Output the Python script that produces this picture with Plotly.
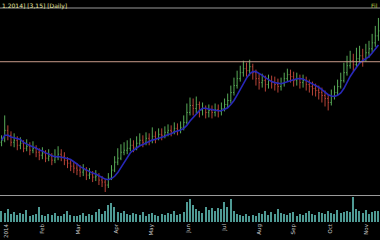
import plotly.graph_objects as go
import pandas as pd

close = [12.0,14.0,13.0,11.6,12.0,11.0,11.4,10.4,10.8,10.0,
         10.4,9.6,9.0,9.4,8.4,8.8,8.0,8.6,9.2,8.8,
         8.0,7.4,6.8,6.4,6.0,5.6,6.0,5.0,5.2,4.6,
         4.8,4.0,3.6,3.0,4.4,6.0,7.6,8.4,9.6,10.0,
         10.4,11.0,10.6,11.4,12.0,11.6,12.4,12.0,12.8,12.4,
         13.2,13.0,13.6,14.0,13.8,14.4,14.0,14.6,15.6,17.6,
         19.0,18.4,19.2,18.0,18.4,17.6,18.0,17.6,18.2,17.8,
         18.4,19.2,20.0,21.6,23.0,24.4,25.6,26.4,26.0,26.8,
         25.6,24.4,23.6,24.0,23.2,24.0,23.6,23.2,22.8,23.4,
         24.4,25.2,24.8,24.0,24.4,23.6,24.0,23.2,22.8,22.4,
         22.0,21.6,21.0,20.4,19.6,20.8,21.6,22.8,24.0,25.6,
         27.0,28.0,27.2,28.4,29.0,28.4,29.6,30.4,31.6,33.0,
         34.0]
open_ = [11.6] + close[:-1]
high = [13.0,17.0,15.0,13.8,13.4,12.8,12.6,12.0,12.2,11.6,
        11.8,11.0,10.4,10.6,10.0,10.2,9.4,10.2,10.8,10.2,
        9.6,8.6,8.0,7.6,7.4,7.0,7.2,6.6,6.4,5.8,
        6.0,5.4,4.8,4.2,5.4,7.0,8.8,10.4,11.2,11.6,
        12.0,12.4,12.0,12.8,13.4,13.0,13.6,13.4,14.6,13.8,
        14.4,14.4,14.8,15.2,15.0,15.6,15.4,15.8,17.0,19.4,
        20.6,20.4,20.8,19.8,19.6,19.0,19.2,19.0,19.4,19.2,
        19.6,20.4,21.4,23.0,24.6,26.0,27.0,28.0,27.6,28.2,
        27.4,26.2,25.4,25.4,25.0,25.2,25.0,24.8,24.4,24.6,
        25.6,26.4,26.2,25.8,25.6,25.2,25.2,24.8,24.2,23.8,
        23.4,23.0,22.6,22.0,21.2,22.2,23.0,24.2,25.6,27.6,
        29.0,30.0,29.4,30.6,31.0,30.4,31.4,32.0,33.4,35.0,
        36.6]
low = [10.8,11.6,12.0,10.8,10.6,10.0,10.2,9.6,9.8,9.0,
       9.4,8.6,8.0,8.2,7.6,7.8,7.0,7.4,8.0,7.8,
       7.0,6.4,5.8,5.4,5.0,4.6,4.8,4.0,4.2,3.6,
       3.8,3.0,2.6,1.6,2.4,4.0,5.6,7.0,8.0,9.0,
       9.2,9.8,9.6,10.0,10.8,10.6,11.0,11.0,11.4,11.4,
       12.0,12.0,12.4,12.8,12.8,13.2,13.0,13.4,14.0,15.2,
       17.0,17.0,17.4,16.6,17.0,16.4,16.6,16.4,16.8,16.6,
       17.0,17.8,18.6,19.4,21.0,22.4,23.8,24.8,24.8,25.0,
       24.2,23.0,22.2,22.6,21.8,22.4,22.4,22.0,21.6,22.0,
       22.8,23.8,23.6,22.8,23.0,22.4,22.6,22.0,21.6,21.0,
       20.8,20.2,19.6,18.8,18.0,19.0,20.2,21.0,22.4,23.6,
       25.0,26.4,25.8,26.6,27.4,26.8,27.8,28.6,29.6,30.8,
       32.0]
volume = [12,10,14,9,11,8,10,9,13,7,
          8,9,16,8,7,9,8,10,6,7,
          9,12,8,7,6,8,10,7,9,8,
          11,14,9,12,18,20,16,11,10,12,
          9,8,10,9,8,11,7,9,10,8,
          7,9,8,10,9,12,8,9,11,22,
          25,18,14,12,10,16,13,15,12,15,
          14,22,16,25,12,9,8,7,9,6,
          8,7,10,9,12,8,11,9,14,10,
          9,8,10,11,7,9,8,10,12,9,
          8,11,10,9,12,10,9,13,10,11,
          12,11,28,14,12,10,13,9,11,12,
          12]
tick_pos = [1.5, 13, 24.5, 36.5, 47.5, 59.5, 71, 82, 93, 104.5, 116]
tick_text = ["2014", "Feb", "Mar", "Apr", "May", "Jun", "Jul", "Aug", "Sep", "Oct", "Nov"]
level = 27.8
title_text = "1.2014] [3,15] [Daily]"

x = list(range(len(close)))
ma = pd.Series(close).rolling(6, min_periods=1).mean().tolist()

fig = go.Figure()
fig.add_trace(go.Scatter(x=x, y=ma, mode="lines", line=dict(color="#2828b8", width=1.6),
                         xaxis="x", yaxis="y", showlegend=False, hoverinfo="skip"))
fig.add_trace(go.Ohlc(x=x, open=open_, high=high, low=low, close=close,
                      increasing=dict(line=dict(color="#58aa58", width=1)),
                      decreasing=dict(line=dict(color="#b84438", width=1)),
                      tickwidth=0.3, xaxis="x", yaxis="y", showlegend=False,
                      hoverinfo="skip"))
fig.add_trace(go.Bar(x=x, y=volume, marker=dict(color="#4f9a94", line=dict(width=0)),
                     width=0.45, xaxis="x2", yaxis="y2", showlegend=False, hoverinfo="skip"))

rng = [-0.5, len(close) - 0.5]
fig.update_layout(
    width=380, height=240, margin=dict(l=0, r=0, t=0, b=0),
    paper_bgcolor="black", plot_bgcolor="black",
    xaxis=dict(domain=[0, 1], range=rng, showticklabels=False, showgrid=False,
               zeroline=False, rangeslider=dict(visible=False), anchor="y"),
    yaxis=dict(domain=[1 - 195/240, 1 - 9/240], range=[1.0, 38.4], showgrid=False,
               zeroline=False, showticklabels=False),
    xaxis2=dict(domain=[0, 1], range=rng, anchor="y2", showgrid=False, zeroline=False,
                tickmode="array", tickvals=tick_pos, ticktext=tick_text, tickangle=-90,
                tickfont=dict(size=5.5, color="#c8c8c8", family="DejaVu Sans"),
                ticks="", ticklen=0),
    yaxis2=dict(domain=[1 - 222/240, 1 - 197/240], range=[0, 27], showgrid=False,
                zeroline=False, showticklabels=False),
    bargap=0,
    shapes=[
        dict(type="line", xref="paper", yref="paper", x0=0, x1=1,
             y0=1 - 8/240, y1=1 - 8/240, line=dict(color="#9a9a9a", width=1.2)),
        dict(type="line", xref="paper", yref="paper", x0=0, x1=1,
             y0=1 - 195.5/240, y1=1 - 195.5/240, line=dict(color="#9a9a9a", width=1.2)),
        dict(type="line", xref="paper", yref="y", x0=0, x1=1,
             y0=level, y1=level, line=dict(color="#c89a8a", width=1)),
    ],
    annotations=[
        dict(text=title_text, xref="paper", yref="paper", x=0, y=1, xanchor="left",
             yanchor="top", showarrow=False,
             font=dict(size=6, color="#e6e6a0", family="DejaVu Sans")),
        dict(text="Fil", xref="paper", yref="paper", x=1, y=1, xanchor="right",
             yanchor="top", showarrow=False,
             font=dict(size=6, color="#b8c840", family="DejaVu Sans")),
    ],
)
fig.write_html("out.html")
